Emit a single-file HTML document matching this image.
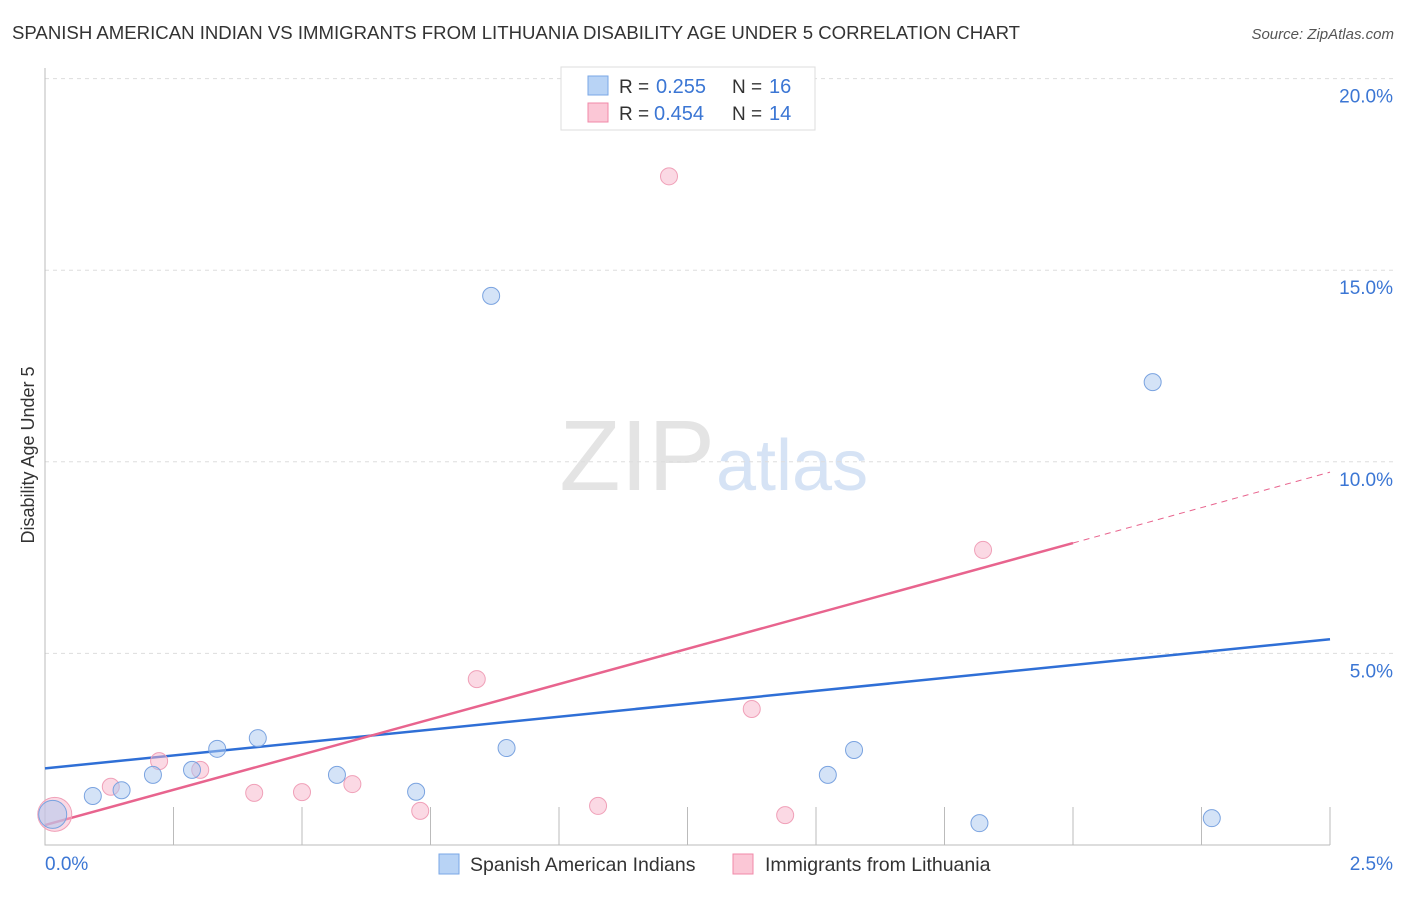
<!DOCTYPE html>
<html><head><meta charset="utf-8"><style>
body{margin:0;background:#fff;font-family:"Liberation Sans",sans-serif}
svg text{font-family:"Liberation Sans",sans-serif}
</style></head><body>
<svg width="1406" height="892">
<text x="12" y="39" font-size="18.6" fill="#333">SPANISH AMERICAN INDIAN VS IMMIGRANTS FROM LITHUANIA DISABILITY AGE UNDER 5 CORRELATION CHART</text>
<text x="1394" y="39" font-size="15" fill="#555" font-style="italic" text-anchor="end">Source: ZipAtlas.com</text>
<text x="715" y="490" font-size="100" fill="#e4e4e4" text-anchor="end" font-family="Liberation Serif">ZIP</text>
<text x="716" y="490" font-size="72" fill="#d6e3f5">atlas</text>
<text transform="translate(34,455) rotate(-90)" font-size="18" fill="#333" text-anchor="middle">Disability Age Under 5</text>
<g id="grid"></g><g id="axes"></g><g id="trends"></g><g id="pts"></g>
<g>
<rect x="561" y="67" width="254" height="63" fill="#fff" stroke="#ddd"/>
<rect x="588" y="76" width="20" height="19" fill="#b8d3f5" stroke="#7aa7e6"/>
<rect x="588" y="103" width="20" height="19" fill="#fbc7d6" stroke="#f08aa8"/>
<text x="619" y="93" font-size="19" fill="#333">R =</text>
<text x="656" y="93" font-size="20" fill="#3b76d4">0.255</text>
<text x="732" y="93" font-size="19" fill="#333">N =</text>
<text x="769" y="93" font-size="20" fill="#3b76d4">16</text>
<text x="619" y="120" font-size="19" fill="#333">R =</text>
<text x="654" y="120" font-size="20" fill="#3b76d4">0.454</text>
<text x="732" y="120" font-size="19" fill="#333">N =</text>
<text x="769" y="120" font-size="20" fill="#3b76d4">14</text>
</g>
<g>
<rect x="439" y="854" width="20" height="20" fill="#b8d3f5" stroke="#7aa7e6"/>
<text x="470" y="871" font-size="19.5" fill="#333">Spanish American Indians</text>
<rect x="733" y="854" width="20" height="20" fill="#fbc7d6" stroke="#f08aa8"/>
<text x="765" y="871" font-size="19.5" fill="#333">Immigrants from Lithuania</text>
</g>
</svg>
<script>
const xTicks=[0,2.5];
const yTicks=[5,10,15,20];
const blueX=[0.015,0.093,0.149,0.210,0.286,0.335,0.414,0.568,0.722,0.868,0.898,1.523,1.574,1.818,2.155,2.270];
const blueY=[0.8,1.28,1.43,1.83,1.96,2.51,2.79,1.83,1.39,14.33,2.53,1.83,2.48,0.57,12.08,0.70];
const pinkX=[0.019,0.128,0.222,0.302,0.407,0.500,0.598,0.730,0.840,1.076,1.214,1.375,1.440,1.825];
const pinkY=[0.8,1.52,2.19,1.96,1.36,1.38,1.59,0.89,4.33,1.02,17.45,3.55,0.78,7.70];
const blueTrend=[[0,2.00],[2.5,5.37]];
const pinkTrend=[[0,0.52],[2.0,7.88],[2.5,9.73]];
const X=v=>45+v/2.5*1285, Y=v=>845-v*38.32;
const NS="http://www.w3.org/2000/svg";
function mk(p,t,a){const e=document.createElementNS(NS,t);for(const k in a)e.setAttribute(k,a[k]);document.getElementById(p).appendChild(e);return e;}
yTicks.forEach(v=>{
 const l=mk('grid','line',{x1:45,x2:1393,y1:Y(v),y2:Y(v),stroke:'#ddd','stroke-dasharray':'4,4'});
 
 
 const t=mk('grid','text',{x:1393,y:Y(v)+24,'font-size':19,fill:'#3b76d4','text-anchor':'end'});t.textContent=v.toFixed(1)+'%';
 
 
});
const ax=mk('axes','path',{d:'M45,68V845H1330',stroke:'#bbb',fill:'none'});


for(let i=1;i<=10;i++){const tk=mk('axes','line',{x1:X(i*0.25),x2:X(i*0.25),y1:807,y2:845,stroke:'#bbb'});
 
 }
xTicks.forEach((v,i)=>{const t=mk('axes','text',{x:i?1393:45,y:870,'font-size':19,fill:'#3b76d4','text-anchor':i?'end':'start'});t.textContent=v.toFixed(1)+'%';
 
 });
const bl=mk('trends','line',{x1:X(blueTrend[0][0]),y1:Y(blueTrend[0][1]),x2:X(blueTrend[1][0]),y2:Y(blueTrend[1][1]),stroke:'#2f6fd6','stroke-width':2.5});


const pl=mk('trends','line',{x1:X(pinkTrend[0][0]),y1:Y(pinkTrend[0][1]),x2:X(pinkTrend[1][0]),y2:Y(pinkTrend[1][1]),stroke:'#e8648e','stroke-width':2.5});


const pd=mk('trends','line',{x1:X(pinkTrend[1][0]),y1:Y(pinkTrend[1][1]),x2:X(pinkTrend[2][0]),y2:Y(pinkTrend[2][1]),stroke:'#e8648e','stroke-width':1,'stroke-dasharray':'6,5'});


pinkX.forEach((x,i)=>{const c=mk('pts','circle',{cx:X(x),cy:Y(pinkY[i]),r:i?8.5:17,fill:'rgba(248,180,202,0.5)',stroke:'#f0a0b8','stroke-width':1});
 
 });
blueX.forEach((x,i)=>{const c=mk('pts','circle',{cx:X(x),cy:Y(blueY[i]),r:i?8.5:14,fill:'rgba(170,200,240,0.5)',stroke:'#7aa3e0','stroke-width':1});
 
 });
</script>
</body></html>
